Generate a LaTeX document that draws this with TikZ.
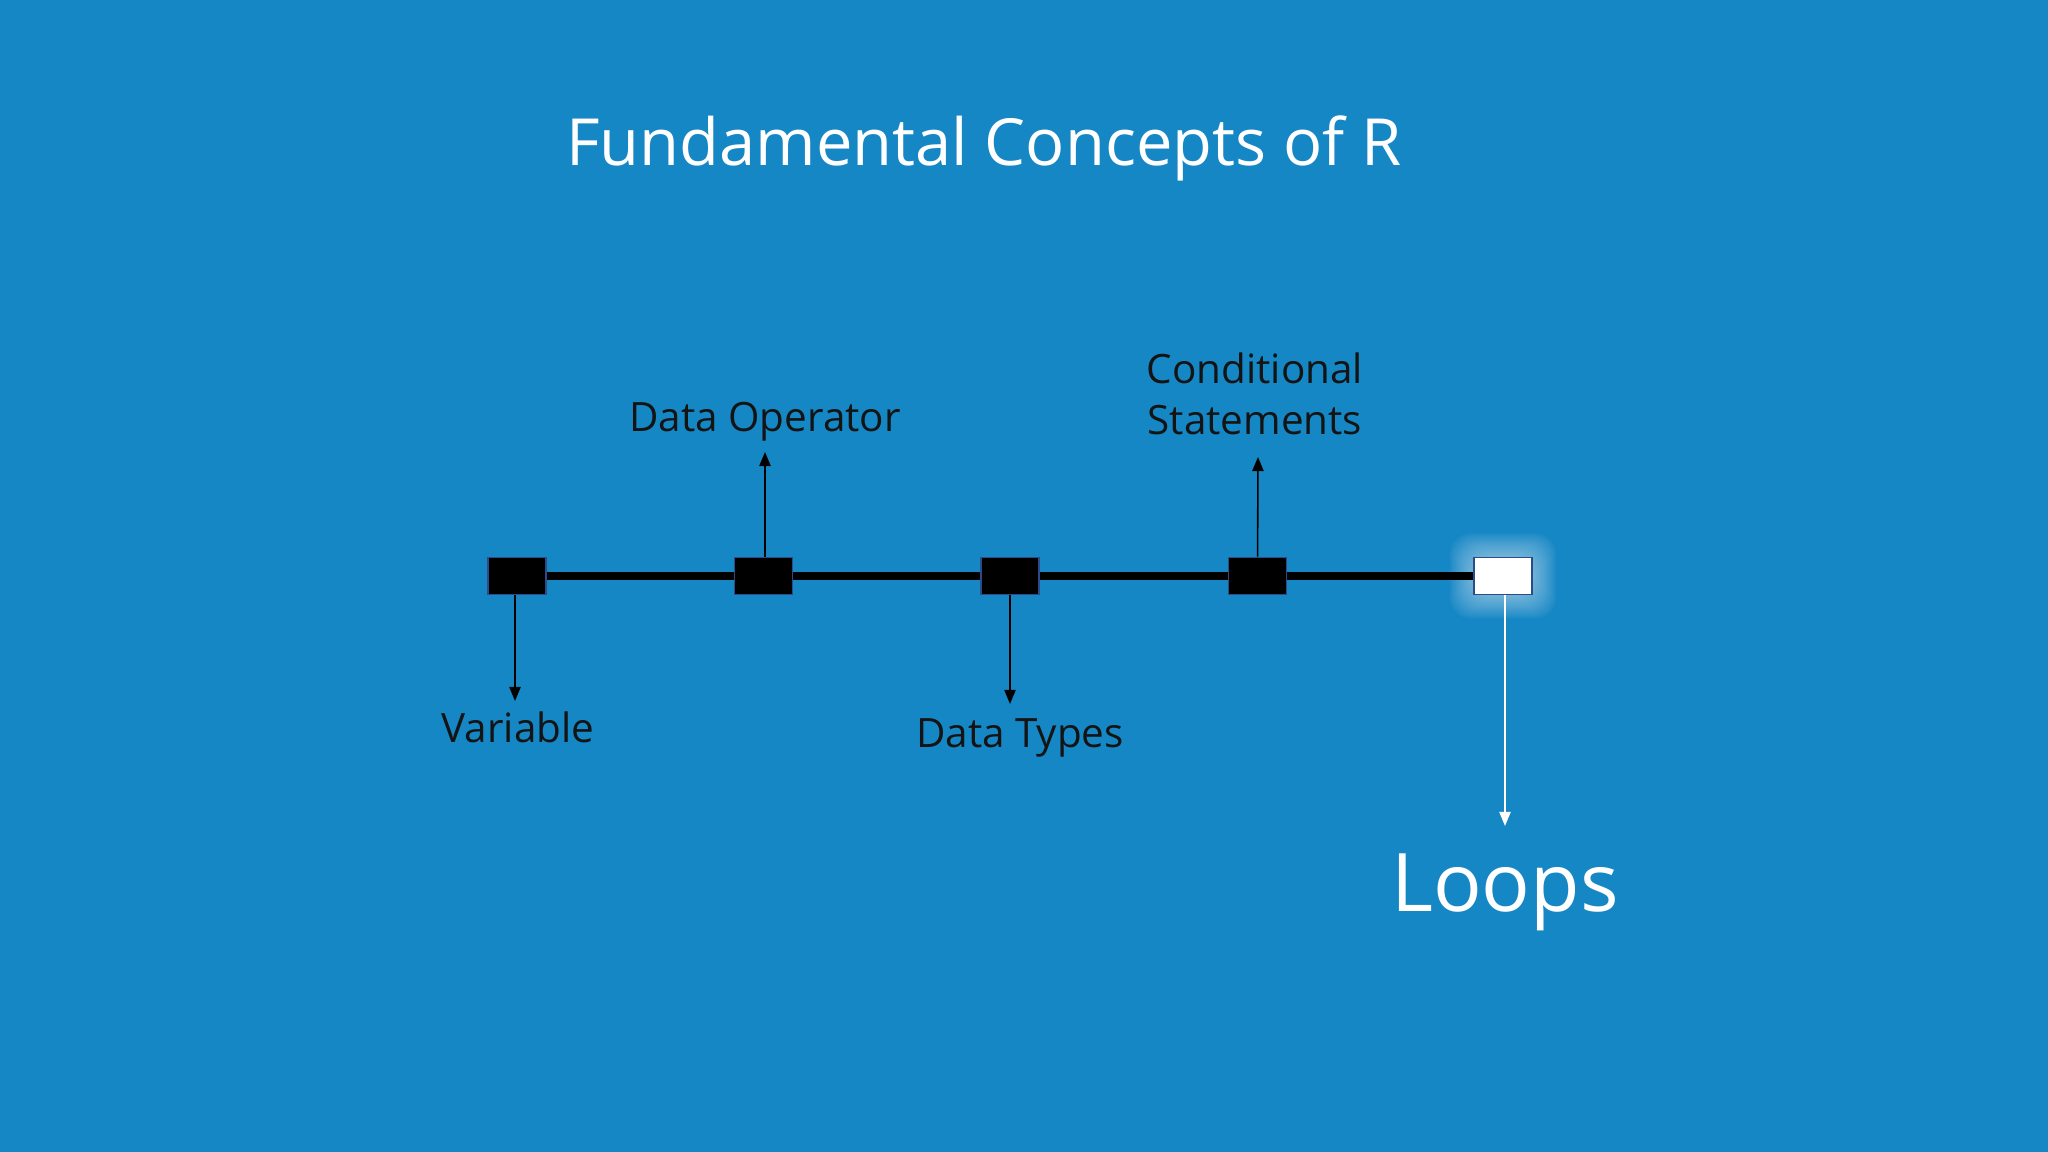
\documentclass[tikz,border=0pt]{standalone}
\usepackage{fontspec}
\setmainfont{Open Sans}
\usetikzlibrary{arrows.meta, positioning}
\definecolor{slideblue}{RGB}{22,135,197}
\definecolor{boxedge}{RGB}{45,75,135}

\begin{document}
\begin{tikzpicture}[
  stage/.style={rectangle, draw=boxedge, line width=0.5pt, fill=black, minimum width=0.58cm, minimum height=0.37cm, inner sep=0pt},
  current/.style={stage, fill=white},
  link/.style={line width=2.3pt, black},
  pointer/.style={-{Triangle[length=4pt, width=3.2pt]}, line width=0.45pt},
  tag/.style={font=\fontsize{11.5}{14.6}\selectfont, text=black!92, align=center, inner sep=0pt}
]
\useasboundingbox (0,0) rectangle (20.48,11.52);
\fill[slideblue] (0,0) rectangle (20.48,11.52);

% Title
\node[font=\fontsize{18.5}{22}\selectfont, text=white, anchor=base] (title) at (9.84, 9.86) {Fundamental Concepts of R};

% Glow round the last stage
\coordinate (glow) at (15.03, 5.76);
\foreach \g in {0.02,0.04,...,0.24}
  \fill[white, opacity=0.045, rounded corners=6pt] ([shift={(-0.29-\g,-0.185-\g)}]glow) rectangle ([shift={(0.29+\g,0.185+\g)}]glow);

% Nodes
\node[stage] (var) at (5.17, 5.76) {};
\node[stage] (oper) at (7.635, 5.76) {};
\node[stage] (types) at (10.10, 5.76) {};
\node[stage] (cond) at (12.575, 5.76) {};
\node[current] (loops) at (glow) {};

% Timeline
\draw[link] (var) -- (oper) -- (types) -- (cond) -- (loops);

% Pointers
\coordinate (varend) at (5.15, 4.51);
\coordinate (operend) at (7.65, 7.00);
\coordinate (typesend) at (10.10, 4.48);
\coordinate (condend) at (12.58, 6.95);
\coordinate (loopsend) at (15.05, 3.26);
\draw[pointer] (var.south -| varend) -- (varend);
\draw[pointer] (oper.north -| operend) -- (operend);
\draw[pointer] (types) -- (typesend);
\draw[pointer] (cond) -- (condend);
\draw[pointer, white] (loops.south -| loopsend) -- (loopsend);

% Labels
\node[tag, anchor=base] (varlabel) at (5.18, 4.09) {Variable};
\node[tag, anchor=base] (operlabel) at (7.65, 7.20) {Data Operator};
\node[tag, anchor=base] (typeslabel) at (10.20, 4.04) {Data Types};
\node[tag] (condlabel) at (12.55, 7.58) {Conditional\\Statements};
\node[font=\fontsize{23}{27}\selectfont, text=white, anchor=base] (loopslabel) at (15.05, 2.40) {Loops};

\end{tikzpicture}
\end{document}
